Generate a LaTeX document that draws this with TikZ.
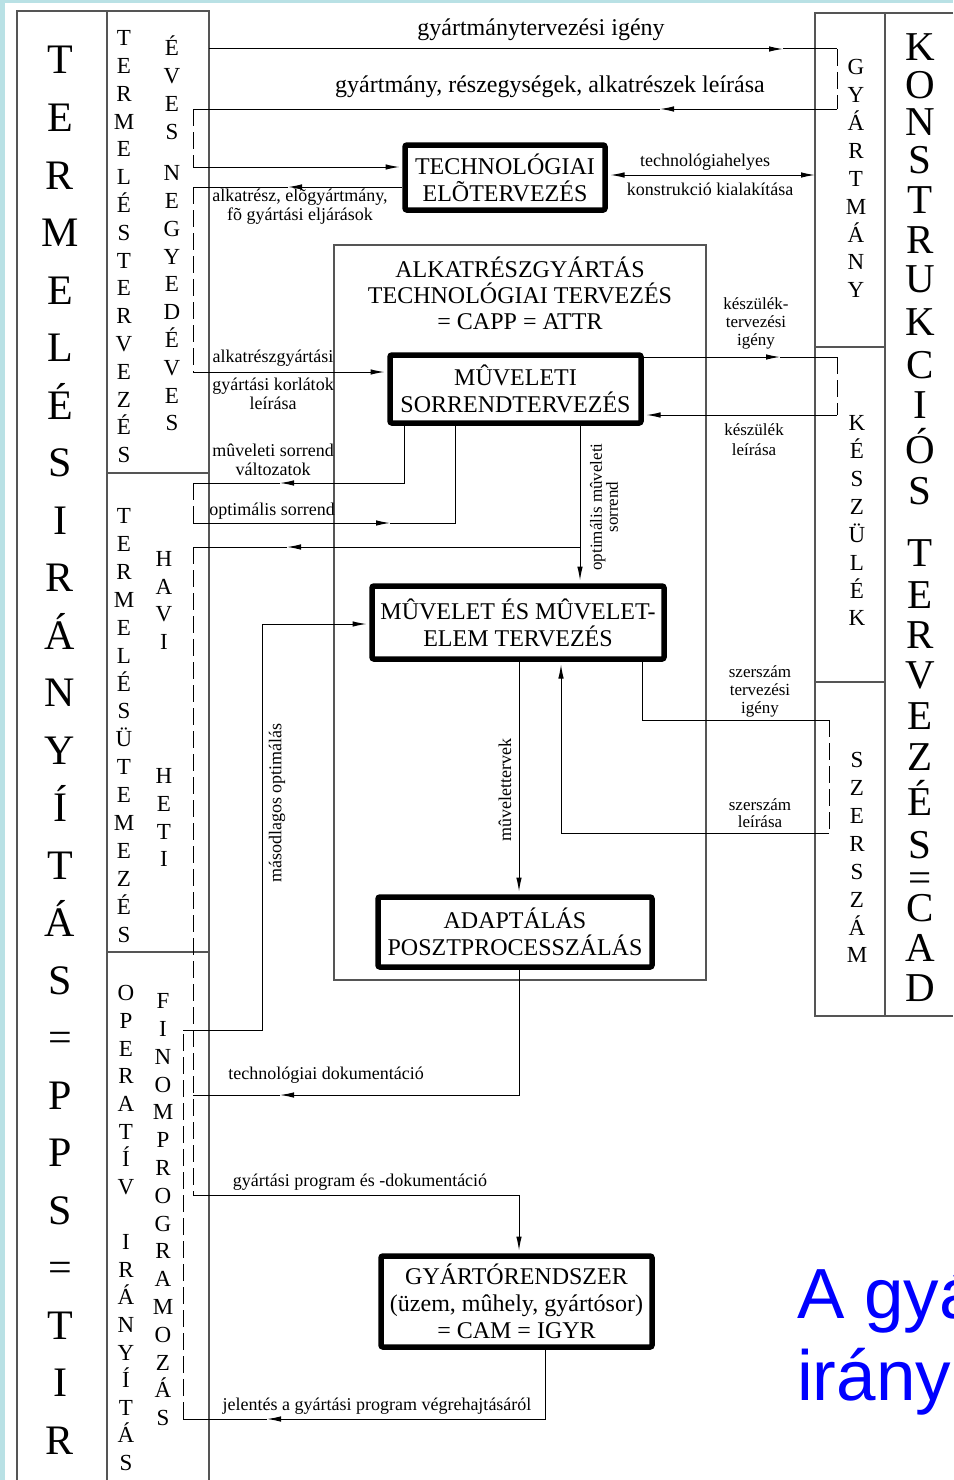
\documentclass[tikz,border=0pt]{standalone}
\usepackage{fontspec}
\setmainfont{Liberation Serif}
\newfontfamily\headsans{Liberation Sans}
\usetikzlibrary{arrows.meta,calc}
\definecolor{bgcyan}{RGB}{185,225,229}
\definecolor{framegray}{RGB}{85,85,85}
\definecolor{titleblue}{RGB}{0,0,255}
\tikzset{
  frame/.style={draw=framegray, line width=1.1pt},
  conn/.style={draw=black, line width=1pt},
  dashline/.style={draw=black, line width=1pt, dash pattern=on 17pt off 6pt},
  procbox/.style={draw=black, line width=5.5pt, rounded corners=2pt, align=center,
    inner sep=0pt, font=\fontsize{24}{27}\selectfont},
  lbl/.style={font=\fontsize{18}{19}\selectfont, align=center, inner sep=0pt},
  biglbl/.style={font=\fontsize{24}{26}\selectfont, align=center, inner sep=0pt},
  colletter/.style={font=\fontsize{23}{23}\selectfont, anchor=base, inner sep=0pt},
  bigletter/.style={font=\fontsize{42}{42}\selectfont, anchor=base, inner sep=0pt},
  cadletter/.style={font=\fontsize{41}{41}\selectfont, anchor=base, inner sep=0pt},
}
\begin{document}
\begin{tikzpicture}[x=1pt, y=-1pt, >={Latex[length=14pt,width=5.5pt]}]
\useasboundingbox (0,0) rectangle (953,1480);
\clip (0,0) rectangle (953,1480);
\fill[bgcyan] (0,0) rectangle (953,1480);
\fill[white] (5,3) rectangle (953,1480);

% ---------- left columns (production control) ----------
\draw[frame] (17,1480) -- (17,11) -- (209,11) -- (209,1480);
\draw[frame] (107,11) -- (107,1480);
\draw[frame] (107,473) -- (209,473);
\draw[frame] (107,952) -- (209,952);

\foreach \ch [count=\i from 0] in {T,E,R,M,E,L,É,S,I,R,Á,N,Y,Í,T,Á,S,=,P,P,S,=,T,I,R}
  \node[bigletter] (tir\i) at (60, 74+\i*57.5) {\ch};

\foreach \ch [count=\i from 0] in {T,E,R,M,E,L,É,S,T,E,R,V,E,Z,É,S}
  \node[colletter] (tt\i) at (124, 45.6+\i*27.8) {\ch};
\foreach \ch [count=\i from 0] in {É,V,E,S}
  \node[colletter] (ev\i) at (172, 55.6+\i*27.8) {\ch};
\foreach \ch [count=\i from 0] in {N,E,G,Y,E,D,É,V,E,S}
  \node[colletter] (ne\i) at (172, 180.6+\i*27.8) {\ch};

\foreach \ch [count=\i from 0] in {T,E,R,M,E,L,É,S,Ü,T,E,M,E,Z,É,S}
  \node[colletter] (tu\i) at (124, 523.6+\i*27.9) {\ch};
\foreach \ch [count=\i from 0] in {H,A,V,I}
  \node[colletter] (hv\i) at (164, 566.6+\i*27.5) {\ch};
\foreach \ch [count=\i from 0] in {H,E,T,I}
  \node[colletter] (ht\i) at (164, 783.6+\i*27.7) {\ch};

\foreach \ch [count=\i from 0] in {O,P,E,R,A,T,Í,V}
  \node[colletter] (op\i) at (126, 1000.6+\i*27.7) {\ch};
\foreach \ch [count=\i from 0] in {I,R,Á,N,Y,Í,T,Á,S}
  \node[colletter] (ir\i) at (126, 1249.6+\i*27.6) {\ch};
\foreach \ch [count=\i from 0] in {F,I,N,O,M,P,R,O,G,R,A,M,O,Z,Á,S}
  \node[colletter] (fp\i) at (163, 1008.6+\i*27.8) {\ch};

% ---------- right columns (design = CAD) ----------
\draw[frame] (953,13) -- (815,13) -- (815,1016) -- (953,1016);
\draw[frame] (885,13) -- (885,1016);
\draw[frame] (815,347) -- (885,347);
\draw[frame] (815,682) -- (885,682);

\foreach \ch/\yy [count=\i from 0] in {K/47,O/85,N/122,S/160,T/200,R/240,U/279,K/322,C/365,I/405,Ó/450,S/491,
    T/553,E/595,R/635,V/675,E/716,Z/757,É/802,S/845,=/878,C/908,A/948,D/988}
  \node[cadletter] (cad\i) at (920, \yy+13.6) {\ch};

\foreach \ch [count=\i from 0] in {G,Y,Á,R,T,M,Á,N,Y}
  \node[colletter] (gy\i) at (856, 74.6+\i*27.9) {\ch};
\foreach \ch [count=\i from 0] in {K,É,S,Z,Ü,L,É,K}
  \node[colletter] (ke\i) at (857, 430.6+\i*27.9) {\ch};
\foreach \ch [count=\i from 0] in {S,Z,E,R,S,Z,Á,M}
  \node[colletter] (sz\i) at (857, 767.6+\i*27.9) {\ch};

% ---------- part-manufacturing process planning frame ----------
\node[frame, minimum width=372pt, minimum height=735pt, inner sep=0pt] (capp) at (520,612.5) {};
\node[biglbl, font=\fontsize{24}{26}\selectfont] (capptitle) at (520,293)
  {ALKATRÉSZGYÁRTÁS\\TECHNOLÓGIAI TERVEZÉS\\= CAPP = ATTR};

% ---------- process boxes ----------
\node[procbox, minimum width=200pt, minimum height=65pt] (tech) at (505,177.5)
  {TECHNOLÓGIAI\\ELÕTERVEZÉS};
\node[procbox, minimum width=251pt, minimum height=68pt] (muv) at (515.5,389)
  {MÛVELETI\\SORRENDTERVEZÉS};
\node[procbox, minimum width=292pt, minimum height=73pt] (elem) at (518,622.5)
  {MÛVELET ÉS MÛVELET-\\ELEM TERVEZÉS};
\node[procbox, minimum width=274pt, minimum height=70pt] (adapt) at (515,932)
  {ADAPTÁLÁS\\POSZTPROCESSZÁLÁS};
\node[procbox, minimum width=271pt, minimum height=91pt] (gyr) at (516.5,1301.5)
  {GYÁRTÓRENDSZER\\(üzem, mûhely, gyártósor)\\= CAM = IGYR};

% ---------- connectors ----------
% product design request and product description
\coordinate (r1a) at (209,49);
\coordinate (r1t) at (783,49);
\coordinate (r1b) at (837,49);
\coordinate (r1c) at (837,109);
\coordinate (r1u) at (660,109);
\coordinate (r1d) at (193,109);
\coordinate (r1e) at (193,167);
\draw[conn,->] (r1a) -- (r1t);
\draw[conn] (r1t) -- (r1b);
\draw[dashline] (r1b) -- (r1c);
\draw[conn,->] (r1c) -- (r1u);
\draw[conn] (r1u) -- (r1d);
\draw[dashline] (r1d) -- (r1e);
\draw[conn,->,shorten >=2.75pt] (r1e) -- (r1e -| tech.west);

% parts, semi-finished products, main processes
\coordinate (r2t) at (288,187);
\coordinate (r2a) at (193,187);
\coordinate (r2b) at (193,372);
\draw[conn,->] (r2a -| tech.west) -- (r2t);
\draw[conn] (r2t) -- (r2a);
\draw[dashline] (r2a) -- (r2b);
\draw[conn,->,shorten >=2.75pt] (r2b) -- (r2b -| muv.west);

% design-for-manufacture link
\coordinate (r3) at (815,175);
\draw[conn,<->,shorten <=2.75pt] (r3 -| tech.east) -- (r3);

% fixture design request / description
\coordinate (r4t) at (780,357);
\coordinate (r4a) at (837,357);
\coordinate (r4b) at (837,415);
\draw[conn,->] (r4t -| muv.east) -- (r4t);
\draw[conn] (r4t) -- (r4a);
\draw[dashline] (r4a) -- (r4b);
\draw[conn,->,shorten >=2.75pt] (r4b) -- (r4b -| muv.east);

% sequence variants and optimal sequence
\coordinate (r5a) at (404,483);
\coordinate (r5t) at (280,483);
\coordinate (r5b) at (193,483);
\coordinate (r5c) at (193,523);
\coordinate (r5u) at (390,523);
\coordinate (r5d) at (455,523);
\draw[conn,->] (muv.south -| r5a) -- (r5a) -- (r5t);
\draw[conn] (r5t) -- (r5b);
\draw[dashline] (r5b) -- (r5c);
\draw[conn,->] (r5c) -- (r5u);
\draw[conn] (r5u) -- (r5d) -- (r5d |- muv.south);

% optimal operation sequence, branch to manufacturing program
\coordinate (r6) at (580,547);
\coordinate (r6t) at (287,547);
\coordinate (r6a) at (193,547);
\coordinate (r6b) at (193,1195);
\coordinate (r6c) at (519,1195);
\draw[conn,->,shorten >=2.75pt] (muv.south -| r6) -- (elem.north -| r6);
\draw[conn,->] (r6) -- (r6t);
\draw[conn] (r6t) -- (r6a);
\draw[dashline] (r6a) -- (r6b);
\draw[conn,->,shorten >=2.75pt] (r6b) -- (r6c) -- (r6c |- gyr.north);

% operation plans
\coordinate (r7) at (519,780);
\draw[conn,->,shorten >=2.75pt] (elem.south -| r7) -- (adapt.north -| r7);

% tool design request / description
\coordinate (r8a) at (642,720);
\coordinate (r8b) at (829,720);
\coordinate (r8c) at (829,833);
\coordinate (r8d) at (561,833);
\draw[conn] (elem.south -| r8a) -- (r8a) -- (r8b);
\draw[dashline] (r8b) -- (r8c);
\draw[conn,->,shorten >=2.75pt] (r8c) -- (r8d) -- (r8d |- elem.south);

% execution report and secondary optimisation
\coordinate (r9a) at (545,1419);
\coordinate (r9t) at (267,1419);
\coordinate (r9b) at (183,1419);
\coordinate (r9c) at (183,1030);
\coordinate (r9d) at (262,1030);
\coordinate (r9e) at (262,624);
\draw[conn,->] (gyr.south -| r9a) -- (r9a) -- (r9t);
\draw[conn] (r9t) -- (r9b);
\draw[dashline] (r9b) -- (r9c);
\draw[conn,->,shorten >=2.75pt] (r9c) -- (r9d) -- (r9e) -- (r9e -| elem.west);

% technological documentation
\coordinate (r10a) at (519,1095);
\coordinate (r10t) at (280,1095);
\coordinate (r10b) at (193,1095);
\draw[conn,->] (adapt.south -| r10a) -- (r10a) -- (r10t);
\draw[conn] (r10t) -- (r10b);

% ---------- connector labels ----------
\node[biglbl] (l1) at (541,30) {gyártmánytervezési igény};
\node[biglbl] (l2) at (550,87) {gyártmány, részegységek, alkatrészek leírása};
\node[lbl] (l3) at (300,207) {alkatrész, elõgyártmány,\\fõ gyártási eljárások};
\node[lbl] (l4a) at (705,162) {technológiahelyes};
\node[lbl] (l4b) at (710,189) {konstrukció kialakítása};
\node[lbl] (l5a) at (273,358) {alkatrészgyártási};
\node[lbl] (l5b) at (273,393.5) {gyártási korlátok\\leírása};
\node[lbl] (l6) at (273,460) {mûveleti sorrend\\változatok};
\node[lbl] (l7) at (272,511) {optimális sorrend};
\node[lbl, font=\fontsize{17}{18}\selectfont] (l8) at (756,323) {készülék-\\tervezési\\igény};
\node[lbl, font=\fontsize{17}{20}\selectfont] (l9) at (754,440) {készülék\\leírása};
\node[lbl, rotate=90, font=\fontsize{17}{16}\selectfont] (l10) at (604,507) {optimális mûveleti\\sorrend};
\node[lbl, rotate=90] (l11) at (277,803) {másodlagos optimálás};
\node[lbl, rotate=90] (l12) at (505,790) {mûvelettervek};
\node[lbl, font=\fontsize{17}{18}\selectfont] (l13) at (760,691) {szerszám\\tervezési\\igény};
\node[lbl, font=\fontsize{17}{17}\selectfont] (l14) at (760,813.5) {szerszám\\leírása};
\node[lbl] (l15) at (326,1075) {technológiai dokumentáció};
\node[lbl] (l16) at (360,1182) {gyártási program és -dokumentáció};
\node[lbl] (l17) at (377,1406) {jelentés a gyártási program végrehajtásáról};

% ---------- slide heading ----------
\node[anchor=base west, inner sep=0pt, text=titleblue, font=\headsans\fontsize{71}{71}\selectfont] (h1) at (797,1318) {A gyá};
\node[anchor=base west, inner sep=0pt, text=titleblue, font=\headsans\fontsize{71}{71}\selectfont] (h2) at (797,1400) {irány};
\end{tikzpicture}
\end{document}
